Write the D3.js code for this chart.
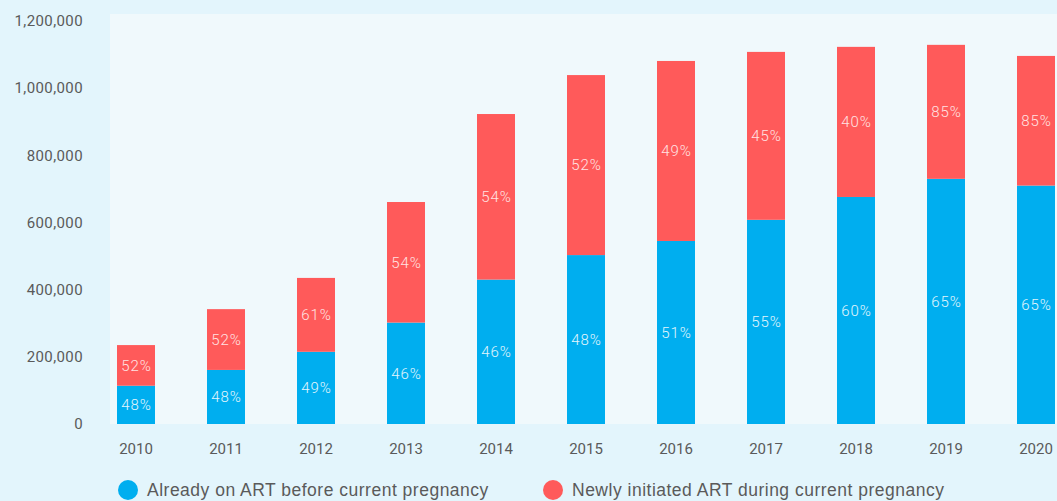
<!DOCTYPE html>
<html>
<head>
<meta charset="utf-8">
<script src="https://cdn.jsdelivr.net/npm/d3@7"></script>
<style>
  body { margin: 0; background: #e3f5fc; }
  svg { display: block; font-family: Roboto, "Noto Sans", sans-serif; }
</style>
</head>
<body>
<div id="chart"></div>
<script>
// Data
const years = ["2010", "2011", "2012", "2013", "2014", "2015", "2016", "2017", "2018", "2019", "2020"];
const alreadyOnArt = [114000, 161000, 215000, 302000, 430000, 503000, 545000, 608000, 676000, 730000, 710000];
const newlyInitiated = [121000, 181000, 220000, 359000, 493000, 536000, 536000, 500000, 447000, 399000, 386000];
const alreadyPct = ["48%", "48%", "49%", "46%", "46%", "48%", "51%", "55%", "60%", "65%", "65%"];
const newlyPct = ["52%", "52%", "61%", "54%", "54%", "52%", "49%", "45%", "40%", "85%", "85%"];
const yTicks = [0, 200000, 400000, 600000, 800000, 1000000, 1200000];
const seriesNames = ["Already on ART before current pregnancy", "Newly initiated ART during current pregnancy"];

const width = 1057;
const height = 501;
const colors = ["#00aeef", "#ff5a5a"];

const svg = d3.select("#chart")
    .append("svg")
    .attr("width", width)
    .attr("height", height);

// background
svg.append("rect")
    .attr("width", width)
    .attr("height", height)
    .attr("fill", "#e3f5fc");

// plot area
svg.append("rect")
    .attr("x", 110)
    .attr("y", 14)
    .attr("width", width - 110)
    .attr("height", 424 - 14)
    .attr("fill", "#f0f9fc");

const x = d3.scaleBand()
    .domain(years)
    .range([91, 1081])
    .paddingInner(52 / 90)
    .paddingOuter(26 / 90);

const y = d3.scaleLinear()
    .domain([0, 1200000])
    .range([424, 21]);

// y axis
const yAxis = svg.append("g")
    .attr("transform", "translate(92,0)")
    .call(d3.axisLeft(y).tickValues(yTicks).tickSize(0).tickPadding(9).tickFormat(d3.format(",")));
yAxis.select(".domain").remove();
yAxis.selectAll("text")
    .attr("fill", "#5a5a5a")
    .style("font-size", "15px")
    .style("letter-spacing", "0.4px")
    .style("font-family", "Roboto, 'Noto Sans', sans-serif");

// x axis
const xAxis = svg.append("g")
    .attr("transform", "translate(0,424)")
    .call(d3.axisBottom(x).tickSize(0).tickPadding(19));
xAxis.select(".domain").remove();
xAxis.selectAll("text")
    .attr("fill", "#5a5a5a")
    .style("font-size", "15px")
    .style("font-family", "Roboto, 'Noto Sans', sans-serif");

const rows = years.map((yr, i) => ({
    year: yr,
    a: alreadyOnArt[i],
    n: newlyInitiated[i],
    ap: alreadyPct[i],
    np: newlyPct[i]
}));

const stack = d3.stack().keys(["a", "n"]);
const series = stack(rows);

const bars = svg.append("g");
series.forEach((s, si) => {
    bars.selectAll(null)
        .data(s)
        .join("rect")
        .attr("x", d => x(d.data.year))
        .attr("y", d => y(d[1]))
        .attr("width", x.bandwidth())
        .attr("height", d => y(d[0]) - y(d[1]))
        .attr("fill", colors[si]);

    bars.selectAll(null)
        .data(s)
        .join("text")
        .attr("x", d => x(d.data.year) + x.bandwidth() / 2 + 0.5)
        .attr("y", d => (y(d[0]) + y(d[1])) / 2)
        .attr("dy", "0.35em")
        .attr("text-anchor", "middle")
        .attr("fill", si === 0 ? "#e3f6fd" : "#ffe3e3")
        .style("font-size", "15px")
        .style("font-weight", "300")
        .style("letter-spacing", "1px")
        .text(d => si === 0 ? d.data.ap : d.data.np);
});

// legend
const legendX = [128, 553];
const legend = svg.append("g");
seriesNames.forEach((name, i) => {
    legend.append("circle")
        .attr("cx", legendX[i])
        .attr("cy", 490)
        .attr("r", 10)
        .attr("fill", colors[i]);
    legend.append("text")
        .attr("x", legendX[i] + 19)
        .attr("y", 490)
        .attr("dy", "0.35em")
        .attr("fill", "#5a5a5a")
        .style("font-family", "'Liberation Sans', Arial, sans-serif")
        .style("font-size", "17.5px")
        .style("letter-spacing", "0.5px")
        .text(name);
});
</script>
</body>
</html>
